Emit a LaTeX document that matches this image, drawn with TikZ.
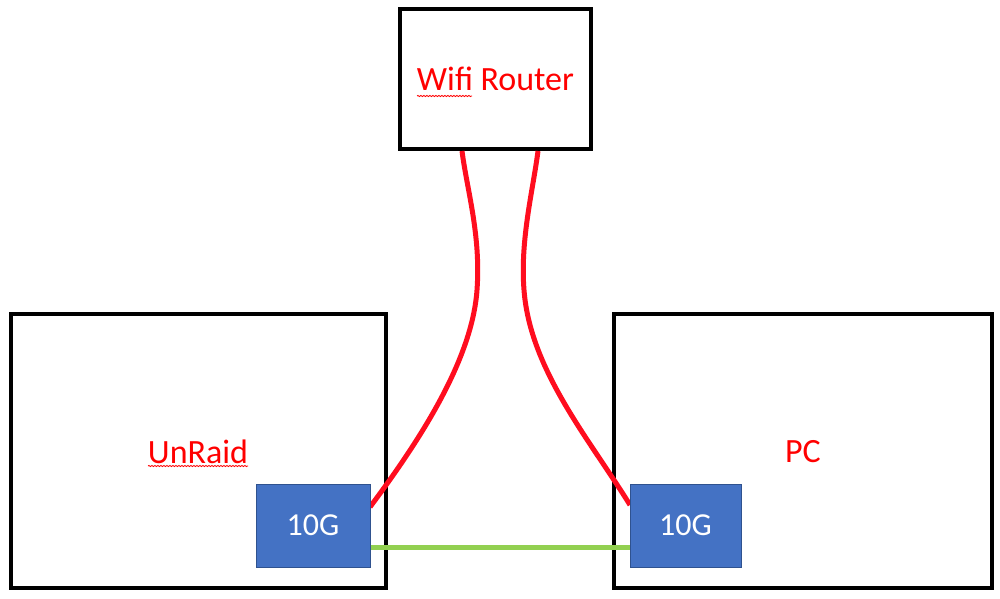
\documentclass[tikz,border=0pt]{standalone}
\usepackage{fontspec}
\setmainfont{Carlito}
\usetikzlibrary{decorations.pathmorphing}
\definecolor{nicblue}{HTML}{4472C4}
\definecolor{nicedge}{HTML}{2F528F}
\definecolor{linkred}{HTML}{FF0D1F}
\definecolor{linkgreen}{HTML}{92D050}
\definecolor{txtred}{HTML}{FF0000}
\tikzset{
  devbox/.style={draw=black, line width=4pt, fill=white, inner sep=0pt, text=txtred,
    font=\fontsize{34}{40}\selectfont},
  nicbox/.style={draw=nicedge, line width=1pt, fill=nicblue, inner sep=0pt, text=white,
    font=\fontsize{32}{38}\selectfont},
  eth/.style={draw=linkred, line width=5pt},
  fast/.style={draw=linkgreen, line width=5pt},
  spell/.style={draw=txtred, line width=0.8pt, decorate,
    decoration={snake, amplitude=0.6pt, segment length=3pt}}
}
\begin{document}
\begin{tikzpicture}[x=1pt,y=-1pt]
\useasboundingbox (0,0) rectangle (1000,598);
\fill[white] (0,0) rectangle (1000,598);
\node[devbox, minimum width=191pt, minimum height=140pt] (router) at (495.5,79) {Wifi Router};
\node[devbox, minimum width=375pt, minimum height=274pt] (unraid) at (198.5,451) {};
\node[devbox, minimum width=378pt, minimum height=274pt] (pc) at (803,451) {};
\node[text=txtred, font=\fontsize{34}{40}\selectfont, inner sep=0pt] (unraidlbl) at (198,452) {UnRaid};
\node[text=txtred, font=\fontsize{34}{40}\selectfont, inner sep=0pt] (pclbl) at (803,452) {PC};
% spell-check underlines
\coordinate (w1) at (417,96);
\coordinate (w2) at (472,96);
\draw[spell] (w1) -- (w2);
\coordinate (u1) at (148,466);
\coordinate (u2) at (248,466);
\draw[spell] (u1) -- (u2);
% NIC nodes placed (drawn after the links)
\path (313,525.5) coordinate (nicLc);
\path (685.5,525.5) coordinate (nicRc);
\coordinate (rl) at ([xshift=-33.5pt]router.south);
\coordinate (rr) at ([xshift=42.5pt]router.south);
\coordinate (el) at ([xshift=57pt,yshift=18.5pt]nicLc);
\coordinate (er) at ([xshift=-55.5pt,yshift=20.5pt]nicRc);
\draw[eth] (rl) .. controls (467,190) and (481,235) .. (477,290) .. controls (472,360) and (420,440) .. (el);
\draw[eth] (rr) .. controls (533,190) and (520,240) .. (524,290) .. controls (530,370) and (590,440) .. (er);
\node[nicbox, minimum width=114pt, minimum height=83pt] (nicL) at (nicLc) {10G};
\node[nicbox, minimum width=111pt, minimum height=83pt] (nicR) at (nicRc) {10G};
\draw[fast] ([yshift=-21.5pt]nicL.east) -- ([yshift=-21.5pt]nicR.west);
\end{tikzpicture}
\end{document}
